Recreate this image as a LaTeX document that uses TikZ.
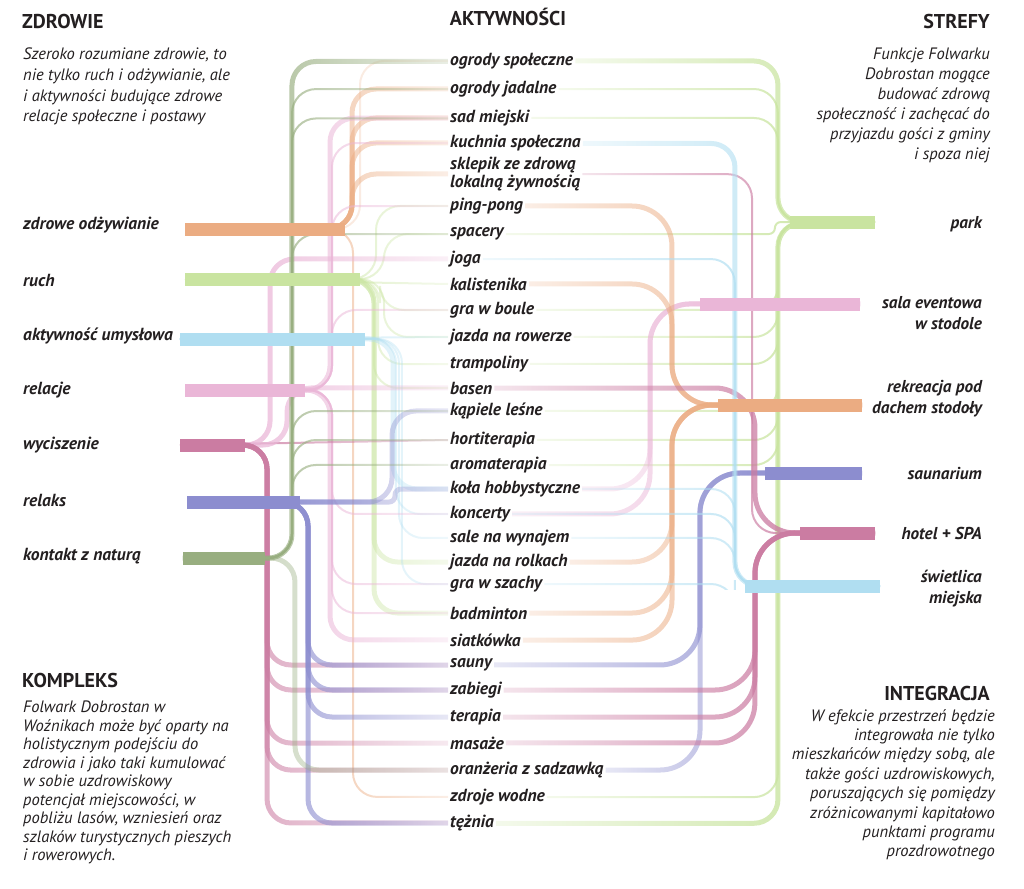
\documentclass[tikz,border=0pt]{standalone}
\usepackage{fontspec}
\setmainfont{PT Sans}
\usetikzlibrary{fadings}
\definecolor{ink}{HTML}{231F20}
\definecolor{cOdz}{HTML}{EBAC82}
\definecolor{cRuch}{HTML}{C9E4A0}
\definecolor{cUmysl}{HTML}{B0DEF1}
\definecolor{cRel}{HTML}{EAB6D7}
\definecolor{cWycisz}{HTML}{CB7CA2}
\definecolor{cRelaks}{HTML}{8C8DCF}
\definecolor{cNatura}{HTML}{98AE80}
\tikzfading[name=toR, left color=transparent!0, right color=transparent!80]
\tikzfading[name=toL, left color=transparent!80, right color=transparent!0]
\begin{document}
\begin{tikzpicture}[x=1pt,y=-1pt,
  act/.style={anchor=west,inner sep=2pt,align=left,text=ink,font=\fontsize{17.5}{18}\selectfont\bfseries\itshape},
  cat/.style={anchor=west,inner sep=2pt,text=ink,font=\fontsize{17.5}{18}\selectfont\bfseries\itshape},
  zone/.style={anchor=east,inner sep=2pt,align=right,text=ink,font=\fontsize{17.2}{21}\selectfont\bfseries\itshape},
  head/.style={inner sep=0pt,text=ink,font=\fontsize{20}{22}\selectfont\bfseries},
  desc/.style={inner sep=0pt,text=ink,font=\fontsize{16.5}{20.6}\selectfont\itshape},
  bar/.style={line width=13pt},
  med/.style={line width=5pt,rounded corners=24pt},
  thin/.style={line width=2pt,rounded corners=24pt},
  lf/.style={path fading=toR},
  rf/.style={path fading=toL}]
\useasboundingbox (0,0) rectangle (1024,888);

% naglowki
\node[head,anchor=west] (hZdr) at (22,22) {ZDROWIE};
\node[head] (hAkt) at (508,17) {AKTYWNOŚCI};
\node[head,anchor=east] (hStr) at (990,22) {STREFY};
\node[head,anchor=west] (hKom) at (22,680) {KOMPLEKS};
\node[head,anchor=east] (hInt) at (990,693) {INTEGRACJA};

\node[desc,anchor=north west,align=left] (dZdr) at (23,48) {Szeroko rozumiane zdrowie, to\\nie tylko ruch i odżywianie, ale\\i aktywności budujące zdrowe\\relacje społeczne i postawy};
\node[desc,anchor=north east,align=right,font=\fontsize{16.5}{20}\selectfont\itshape] (dStr) at (990,48) {Funkcje Folwarku\\Dobrostan mogące\\budować zdrową\\społeczność i zachęcać do\\przyjazdu gości z gminy\\i spoza niej};
\node[desc,anchor=north west,align=left,font=\fontsize{16.5}{18.5}\selectfont\itshape] (dKom) at (23,701) {Folwark Dobrostan w\\Woźnikach może być oparty na\\holistycznym podejściu do\\zdrowia i jako taki kumulować\\w sobie uzdrowiskowy\\potencjał miejscowości, w\\pobliżu lasów, wzniesień oraz\\szlaków turystycznych pieszych\\i rowerowych.};
\node[desc,anchor=north east,align=right,font=\fontsize{16.5}{19.4}\selectfont\itshape] (dInt) at (995,709) {W efekcie przestrzeń będzie\\integrowała nie tylko\\mieszkańców między sobą, ale\\także gości uzdrowiskowych,\\poruszających się pomiędzy\\zróżnicowanymi kapitałowo\\punktami programu\\prozdrowotnego};

% aktywnosci
\foreach \n/\t/\y in {osp/ogrody społeczne/61, ojad/ogrody jadalne/89, sad/sad miejski/118,
  kuch/kuchnia społeczna/143, skl/{sklepik ze zdrową\\lokalną żywnością}/174, ping/ping-pong/206,
  spac/spacery/234, joga/joga/259, kal/kalistenika/284, boule/gra w boule/310,
  rower/jazda na rowerze/337, tramp/trampoliny/364, basen/basen/388, kap/kąpiele leśne/411,
  hort/hortiterapia/440, arom/aromaterapia/465, kola/koła hobbystyczne/489, konc/koncerty/514,
  sale/sale na wynajem/538, rolki/jazda na rolkach/562, szachy/gra w szachy/584,
  badm/badminton/613, siat/siatkówka/640, sauny/sauny/665, zab/zabiegi/690, ter/terapia/717,
  mas/masaże/743, oran/oranżeria z sadzawką/770, zdroje/zdroje wodne/797, tez/tężnia/823}
  \node[act] (\n) at (448,\y) {\t};

% zdrowie
\node[cat] (odz) at (21,225) {zdrowe odżywianie};
\node[cat] (ruch) at (21,280) {ruch};
\node[cat] (umysl) at (21,336) {aktywność umysłowa};
\node[cat] (rel) at (21,390) {relacje};
\node[cat] (wycisz) at (21,445) {wyciszenie};
\node[cat] (relaks) at (21,500) {relaks};
\node[cat] (natura) at (21,556) {kontakt z naturą};
\coordinate (odzB) at (185,229);   \coordinate (odzE) at (345,229);
\coordinate (ruchB) at (185,279);  \coordinate (ruchE) at (360,279);
\coordinate (umyslB) at (180,339); \coordinate (umyslE) at (365,339);
\coordinate (relB) at (185,390);   \coordinate (relE) at (305,390);
\coordinate (wyciszB) at (180,445); \coordinate (wyciszE) at (245,445);
\coordinate (relaksB) at (187,502); \coordinate (relaksE) at (300,502);
\coordinate (naturaB) at (183,558); \coordinate (naturaE) at (265,558);

% strefy
\node[zone] (park) at (984,224) {park};
\node[zone] (sala) at (984,313) {sala eventowa\\w stodole};
\node[zone] (rek) at (984,399) {rekreacja pod\\dachem stodoły};
\node[zone] (sau) at (984,473) {saunarium};
\node[zone] (hotel) at (984,533) {hotel + SPA};
\node[zone] (sw) at (984,589) {świetlica\\miejska};
\coordinate (parkA) at (790,222);  \coordinate (parkE) at (875,222);
\coordinate (salaA) at (700,304);  \coordinate (salaE) at (860,304);
\coordinate (rekA) at (718,405);   \coordinate (rekE) at (862,405);
\coordinate (sauA) at (765,473);   \coordinate (sauE) at (862,473);
\coordinate (hotelA) at (800,533); \coordinate (hotelE) at (875,533);
\coordinate (swA) at (745,586);    \coordinate (swE) at (880,586);

% lewa strona
\foreach \t in {ojad,sad,kuch,skl}
  \draw[med,lf,cOdz] (odzB) -| ([xshift=-96pt]\t.west) -- (\t.west);
\draw[thin,lf,cOdz,opacity=.5] (odzB) -| ([xshift=-88pt]osp.west) -- (osp.west);
\draw[thin,lf,cOdz] (odzB) -| ([xshift=-95pt]zdroje.west) -- (zdroje.west);

\foreach \t/\d in {ping/72,spac/64,boule/68,rower/64,tramp/70,basen/74}
  \draw[thin,lf,cRuch] (ruchB) -| ([xshift=-\d pt]\t.west) -- (\t.west);
\draw[thin,lf,cRuch] (ruchB) -- (kal.west);
\foreach \t in {rolki,badm}
  \draw[med,lf,cRuch] (ruchB) -| ([xshift=-74pt]\t.west) -- (\t.west);

\draw[thin,lf,cUmysl] (umyslB) -- (rower.west);
\draw[med,lf,cUmysl] (umyslB) -| ([xshift=-55pt]kola.west) -- (kola.west);
\foreach \t/\d in {konc/52,sale/49,szachy/46}
  \draw[thin,lf,cUmysl] (umyslB) -| ([xshift=-\d pt]\t.west) -- (\t.west);

\foreach \t in {sad,siat}
  \draw[med,lf,cRel] (relB) -| ([xshift=-118pt]\t.west) -- (\t.west);
\foreach \t in {kuch,ping,boule,konc,szachy,badm}
  \draw[thin,lf,cRel] (relB) -| ([xshift=-116pt]\t.west) -- (\t.west);

\draw[thin,lf,cWycisz] (wyciszB) -- (hort.west);
\draw[med,lf,cRel] (wyciszB) -| ([xshift=-178pt]joga.west) -- (joga.west);
\draw[med,lf,cRel] (wyciszB) -| ([xshift=-161pt]basen.west) -- (basen.west);
\foreach \t in {sauny,zab,mas,oran,tez}
  \draw[med,lf,cWycisz,opacity=.8] (wyciszB) -| ([xshift=-181pt]\t.west) -- (\t.west);

\draw[med,lf,cRelaks] (relaksB) -| ([xshift=-56pt]kap.west) -- (kap.west);
\draw[med,lf,cRelaks,rounded corners=6pt] (relaksB) -| ([xshift=-53pt]kola.west) -- (kola.west);
\foreach \t in {sauny,zab,ter,tez}
  \draw[med,lf,cRelaks] (relaksB) -| ([xshift=-140pt]\t.west) -- (\t.west);

\draw[med,lf,cNatura] (naturaB) -| ([xshift=-156pt]osp.west) -- (osp.west);
\foreach \t in {ojad,sad,spac,kap,hort,arom}
  \draw[thin,lf,cNatura] (naturaB) -| ([xshift=-156pt]\t.west) -- (\t.west);
\draw[med,lf,cNatura,opacity=.6] (naturaB) -| ([xshift=-153pt]oran.west) -- (oran.west);

% prawa strona
\foreach \t in {osp,tez}
  \draw[med,rf,cRuch] (\t.east) -| ([xshift=-97pt]parkE) -- (parkE);
\foreach \t in {ojad,sad,boule,rower,tramp,kap,hort,arom,zdroje}
  \draw[thin,rf,cRuch] (\t.east) -| ([xshift=-97pt]parkE) -- (parkE);
\draw[thin,rf,cRuch,rounded corners=6pt] (spac.east) -| ([xshift=-100pt]parkE) -- (parkE);

\foreach \t in {kola,konc}
  \draw[med,rf,cRel,rounded corners=40pt] (\t.east) -| ([xshift=-210pt]salaE) -- (salaE);
\foreach \t in {ping,kal,rolki,badm,siat}
  \draw[med,rf,cOdz,rounded corners=40pt] (\t.east) -| ([xshift=-190pt]rekE) -- (rekE);
\foreach \t in {sauny,oran}
  \draw[med,rf,cRelaks,rounded corners=40pt] (\t.east) -| ([xshift=-162pt]sauE) -- (sauE);
\foreach \t in {basen,zab,ter,mas}
  \draw[med,rf,cWycisz,rounded corners=40pt] (\t.east) -| ([xshift=-120pt]hotelE) -- (hotelE);
\draw[thin,rf,cWycisz] (skl.east) -| ([xshift=-123pt]hotelE) -- (hotelE);
\draw[med,rf,cUmysl] (kuch.east) -| ([xshift=-145pt]swE) -- (swE);
\foreach \t in {joga,kola,konc,sale,szachy}
  \draw[thin,rf,cUmysl] (\t.east) -| ([xshift=-145pt]swE) -- (swE);

% belki
\draw[bar,cOdz] (odzB) -- (odzE);
\draw[bar,cRuch] (ruchB) -- (ruchE);
\draw[bar,cUmysl] (umyslB) -- (umyslE);
\draw[bar,cRel] (relB) -- (relE);
\draw[bar,cWycisz] (wyciszB) -- (wyciszE);
\draw[bar,cRelaks] (relaksB) -- (relaksE);
\draw[bar,cNatura] (naturaB) -- (naturaE);
\draw[bar,cRuch] (parkA) -- (parkE);
\draw[bar,cRel] (salaA) -- (salaE);
\draw[bar,cOdz] (rekA) -- (rekE);
\draw[bar,cRelaks] (sauA) -- (sauE);
\draw[bar,cWycisz] (hotelA) -- (hotelE);
\draw[bar,cUmysl] (swA) -- (swE);
\end{tikzpicture}
\end{document}
